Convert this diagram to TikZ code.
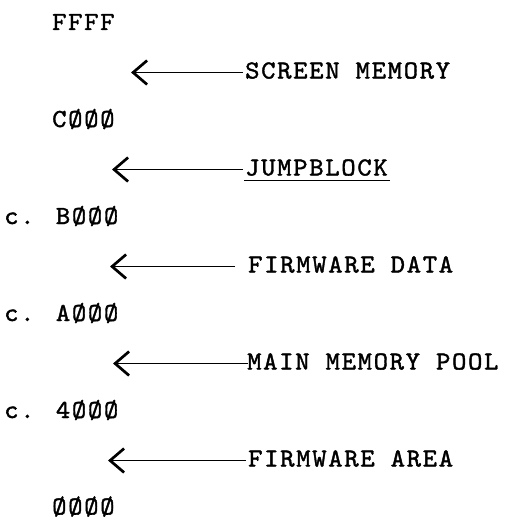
\documentclass[tikz,border=0pt]{standalone}
\usepackage{fontspec}
\usetikzlibrary{arrows.meta}
\newfontfamily\tw{lmmono10-regular}[Extension=.otf, LetterSpace=6.5, FakeStretch=1.05, FakeBold=1.5]
\tikzset{
  addr/.style={anchor=base west, inner sep=0pt, font=\tw\fontsize{26}{26}\selectfont},
  lab/.style={anchor=base west, inner sep=0pt, font=\tw\fontsize{26}{26}\selectfont},
  ptr/.style={line width=1.4pt, -{Straight Barb[length=14pt,width=24pt,line width=2.7pt]}},
  uline/.style={line width=1.5pt}
}
\begin{document}
\begin{tikzpicture}[x=1pt,y=-1pt]
\useasboundingbox (0,0) rectangle (510,519);
% addresses (centres at 22 + 48.5 k)
\node[addr] (a1) at (52,30) {FFFF};
\node[addr] (a2) at (52,127) {CØØØ};
\node[addr] (a3) at (4,224) {c. BØØØ};
\node[addr] (a4) at (4,321) {c. AØØØ};
\node[addr] (a5) at (4,418) {c. 4ØØØ};
\node[addr] (a6) at (52,514.5) {ØØØØ};
% labels
\node[lab] (l1) at (245,78.5) {SCREEN MEMORY};
\node[lab] (l2) at (245,175.5) {JUMPBLOCK};
\node[lab] (l3) at (248,272.5) {FIRMWARE DATA};
\node[lab] (l4) at (247,369.5) {MAIN MEMORY POOL};
\node[lab] (l5) at (248,466.5) {FIRMWARE AREA};
% arrow tips
\coordinate (t1) at (131,72.5);
\coordinate (t2) at (112,169.5);
\coordinate (t3) at (110,266.5);
\coordinate (t4) at (113,363.5);
\coordinate (t5) at (108,460.5);
\draw[ptr] ([xshift=-2pt]l1.west |- t1) -- (t1);
\draw[ptr] ([xshift=-2pt]l2.west |- t2) -- (t2);
\draw[ptr] ([xshift=-13pt]l3.west |- t3) -- (t3);
\draw[ptr] ([xshift=1pt]l4.west |- t4) -- (t4);
\draw[ptr] ([xshift=-2pt]l5.west |- t5) -- (t5);
% underline
\coordinate (u1) at ([xshift=-1pt,yshift=-5pt]l2.base west);
\coordinate (u2) at ([xshift=2pt,yshift=-5pt]l2.base east);
\draw[uline] (u1) -- (u2);
\end{tikzpicture}
\end{document}
